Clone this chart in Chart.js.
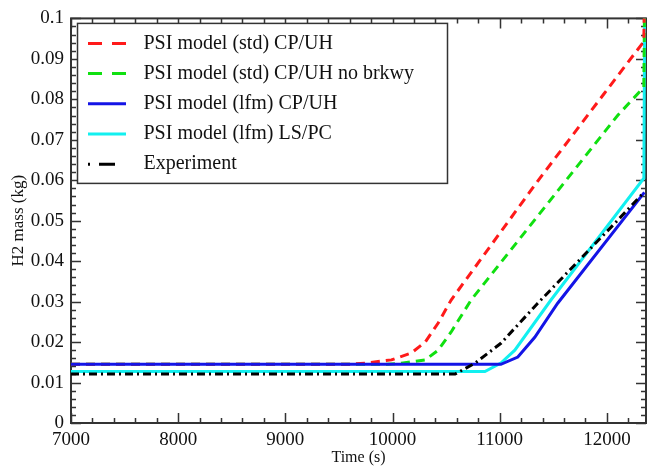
<!DOCTYPE html>
<html>
<head>
<meta charset="utf-8">
<script src="https://cdn.jsdelivr.net/npm/chart.js@4.4.1/dist/chart.umd.min.js"></script>
<style>
  html, body { margin: 0; padding: 0; background: #fff; }
  canvas { display: block; }
</style>
</head>
<body>
<canvas id="h2Chart" width="652" height="466"></canvas>
<script>
// values: time in s, H2 mass in kg
const redTime = [7000, 9600, 9750, 9990, 10175, 10305, 10426, 10547, 11355, 11977, 12345, 12355];
const redMass = [0.0145, 0.0145, 0.0148, 0.0156, 0.0173, 0.0200, 0.0247, 0.0304, 0.0598, 0.0815, 0.0943, 0.115];

const greenTime = [7000, 9950, 10083, 10305, 10426, 10547, 10733, 11560, 12100, 12345, 12355];
const greenMass = [0.0145, 0.0145, 0.0148, 0.0156, 0.0180, 0.0225, 0.0304, 0.0580, 0.0760, 0.0830, 0.115];

const blueTime = [7000, 11011, 11169, 11327, 11541, 12350];
const blueMass = [0.0145, 0.0145, 0.0163, 0.0212, 0.0296, 0.0570];

const cyanTime = [7000, 10862, 11011, 11141, 11478, 12345, 12355];
const cyanMass = [0.0127, 0.0127, 0.0148, 0.0180, 0.0304, 0.0605, 0.115];

const expTime = [7000, 10584, 10770, 11011, 11355, 12097, 12345];
const expMass = [0.0121, 0.0121, 0.0148, 0.0197, 0.0296, 0.0500, 0.0570];

const xTicks = [7000, 8000, 9000, 10000, 11000, 12000];
const yTicks = [0, 0.01, 0.02, 0.03, 0.04, 0.05, 0.06, 0.07, 0.08, 0.09, 0.1];

const toPoints = (t, m) => t.map((v, i) => ({ x: v, y: m[i] }));

Chart.defaults.font.family = "'Liberation Serif', 'Times New Roman', serif";
Chart.defaults.color = '#111';

/* =========================
   Frame with inward ticks on all four sides
========================= */
const frameTicks = {
  id: 'frameTicks',
  beforeDatasetsDraw(chart) {
    const { ctx, chartArea: a, scales: { x, y } } = chart;
    ctx.save();
    ctx.strokeStyle = '#333';
    ctx.lineWidth = 1.5;
    ctx.beginPath();
    for (let v = 7000; v <= x.max; v += 200) {
      const px = Math.round(x.getPixelForValue(v)) + 0.5;
      const len = v % 1000 === 0 ? 10 : 5;
      ctx.moveTo(px, a.bottom); ctx.lineTo(px, a.bottom - len);
      ctx.moveTo(px, a.top); ctx.lineTo(px, a.top + len);
    }
    for (let i = 0; i <= 50; i++) {
      const py = Math.round(y.getPixelForValue(i * 0.002)) + 0.5;
      const len = i % 5 === 0 ? 10 : 5;
      ctx.moveTo(a.left, py); ctx.lineTo(a.left + len, py);
      ctx.moveTo(a.right, py); ctx.lineTo(a.right - len, py);
    }
    ctx.stroke();
    ctx.lineWidth = 2;
    ctx.strokeRect(a.left, a.top, a.right - a.left, a.bottom - a.top);
    ctx.restore();
  }
};

/* =========================
   Boxed legend inside the plot
========================= */
const boxLegend = {
  id: 'boxLegend',
  afterDatasetsDraw(chart) {
    const { ctx, chartArea: a } = chart;
    const bx = a.left + 6.5, by = a.top + 5;
    ctx.save();
    ctx.fillStyle = '#fff';
    ctx.fillRect(bx, by, 370, 160);
    ctx.strokeStyle = '#333';
    ctx.lineWidth = 1.5;
    ctx.strokeRect(bx, by, 370, 160);
    ctx.font = "20px 'Liberation Serif', serif";
    ctx.textBaseline = 'middle';
    chart.data.datasets.forEach((ds, i) => {
      const ry = by + 20 + i * 30.2;
      ctx.strokeStyle = ds.borderColor;
      ctx.lineWidth = ds.borderWidth;
      ctx.setLineDash(ds.legendDash || []);
      ctx.beginPath();
      ctx.moveTo(bx + 10.5, ry);
      ctx.lineTo(bx + 48.5, ry);
      ctx.stroke();
      ctx.setLineDash([]);
      ctx.fillStyle = '#111';
      ctx.fillText(ds.label, bx + 66, ry);
    });
    ctx.restore();
  }
};

const lineStyle = { pointRadius: 0, tension: 0, fill: false, borderWidth: 3 };

new Chart(document.getElementById('h2Chart'), {
  type: 'line',
  data: {
    datasets: [
      { ...lineStyle, label: 'PSI model (std) CP/UH', data: toPoints(redTime, redMass),
        borderColor: '#ff1a1a', borderDash: [9, 6], legendDash: [14, 10], order: 2 },
      { ...lineStyle, label: 'PSI model (std) CP/UH no brkwy', data: toPoints(greenTime, greenMass),
        borderColor: '#10e010', borderDash: [9, 6], legendDash: [14, 10], order: 3 },
      { ...lineStyle, label: 'PSI model (lfm) CP/UH', data: toPoints(blueTime, blueMass),
        borderColor: '#1414e6', order: 1 },
      { ...lineStyle, label: 'PSI model (lfm) LS/PC', data: toPoints(cyanTime, cyanMass),
        borderColor: '#12f0f0', order: 4 },
      { ...lineStyle, label: 'Experiment', data: toPoints(expTime, expMass),
        borderColor: '#000', borderDash: [8, 4, 2, 4], legendDash: [2, 9, 16, 20], order: 0 }
    ]
  },
  options: {
    responsive: false,
    animation: false,
    devicePixelRatio: 1,
    layout: { padding: { left: 0, right: 6, top: 18, bottom: 0 } },
    plugins: { legend: { display: false }, tooltip: { enabled: false } },
    scales: {
      x: {
        type: 'linear',
        min: 7000,
        max: 12365,
        afterBuildTicks: s => { s.ticks = xTicks.map(v => ({ value: v })); },
        afterFit: s => { s.height = 43; },
        grid: { display: false, drawTicks: false },
        border: { display: false },
        ticks: { font: { size: 19 }, padding: 6, maxRotation: 0, autoSkip: false,
                 callback: v => String(v) },
        title: { display: true, text: 'Time (s)', font: { size: 16, lineHeight: 1 }, padding: 0 }
      },
      y: {
        type: 'linear',
        min: 0,
        max: 0.1,
        afterBuildTicks: s => { s.ticks = yTicks.map(v => ({ value: v })); },
        afterFit: s => { s.width = 71; },
        grid: { display: false, drawTicks: false },
        border: { display: false },
        ticks: { font: { size: 19 }, padding: 7, autoSkip: false,
                 callback: v => String(+Number(v).toFixed(3)) },
        title: { display: true, text: 'H2 mass (kg)', font: { size: 17, lineHeight: 1 }, padding: { top: 10, bottom: 0 } }
      }
    }
  },
  plugins: [frameTicks, boxLegend]
});
</script>
</body>
</html>
